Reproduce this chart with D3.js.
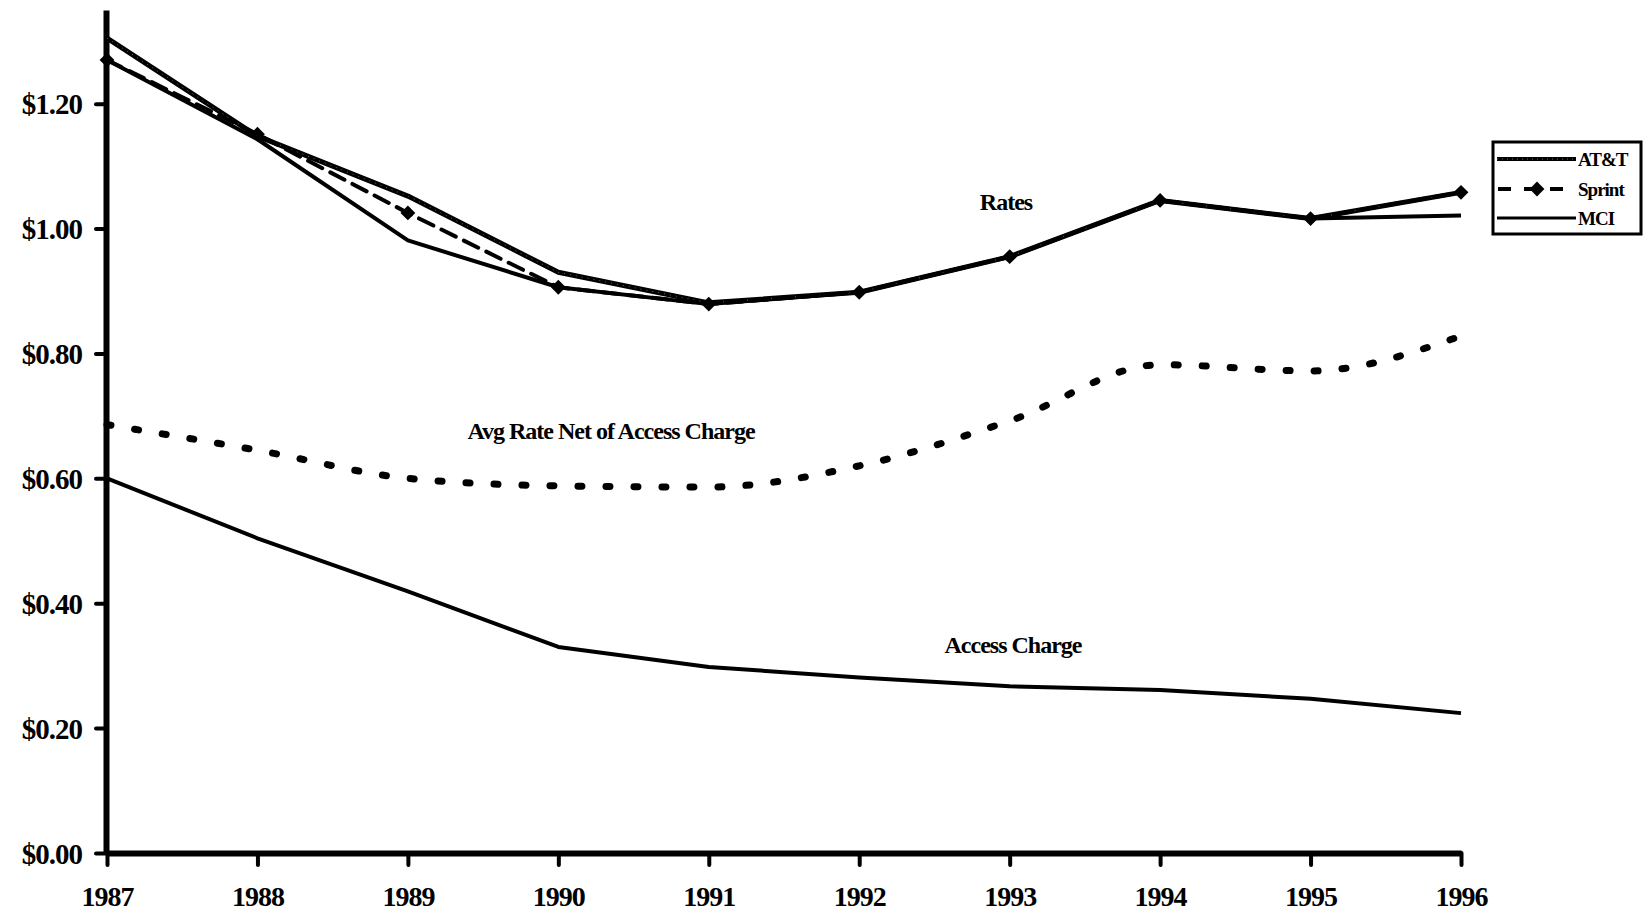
<!DOCTYPE html>
<html>
<head>
<meta charset="utf-8">
<script src="https://cdn.jsdelivr.net/npm/d3@7/dist/d3.min.js"></script>
<style>
  html, body { margin: 0; padding: 0; background: #fff; }
  svg { display: block; }
  text { font-family: "Liberation Serif", "DejaVu Serif", serif; font-weight: bold; fill: #000; }
</style>
</head>
<body>
<svg id="chart" width="1650" height="914"></svg>
<script>
// Long-distance rates per minute, 1987-1996
const years = [1987, 1988, 1989, 1990, 1991, 1992, 1993, 1994, 1995, 1996];
const att    = [1.305, 1.148, 1.052, 0.930, 0.881, 0.898, 0.955, 1.045, 1.016, 1.058];
const sprint = [1.270, 1.151, 1.025, 0.906, 0.879, 0.898, 0.955, 1.045, 1.016, 1.058];
const mci    = [1.270, 1.143, 0.981, 0.906, 0.879, 0.898, 0.955, 1.045, 1.016, 1.021];
const netOfAccess   = [0.686, 0.645, 0.600, 0.588, 0.586, 0.620, 0.692, 0.782, 0.772, 0.828];
const accessCharge  = [0.600, 0.504, 0.419, 0.330, 0.298, 0.281, 0.267, 0.261, 0.247, 0.224];
const yTicks = [0, 0.2, 0.4, 0.6, 0.8, 1.0, 1.2];
const legendItems = ["AT&T", "Sprint", "MCI"];

const svg = d3.select("#chart");

const x = d3.scaleLinear().domain([1987, 1996]).range([107, 1461]);
const y = d3.scaleLinear().domain([0, 1.35]).range([853, 10]);

// axes
const yAxis = d3.axisLeft(y)
  .tickValues(yTicks)
  .tickSize(10)
  .tickSizeOuter(0)
  .tickPadding(14)
  .tickFormat(d3.format("$.2f"));

const gy = svg.append("g").attr("transform", "translate(106,0)").call(yAxis);
gy.select(".domain").attr("stroke", "#000").attr("stroke-width", 6);
gy.selectAll(".tick line").attr("stroke", "#000").attr("stroke-width", 4).attr("stroke-linecap", "round");
gy.selectAll(".tick text").style("font-size", "29px").attr("fill", "#000").attr("dy", "0.35em")
  .attr("letter-spacing", "-1");

const xAxis = d3.axisBottom(x)
  .tickValues(years)
  .tickSize(12)
  .tickSizeOuter(0)
  .tickPadding(21)
  .tickFormat(d3.format("d"));

const gx = svg.append("g").attr("transform", "translate(0,853)").call(xAxis);
gx.select(".domain").attr("stroke", "#000").attr("stroke-width", 6);
gx.selectAll(".tick line").attr("stroke", "#000").attr("stroke-width", 4).attr("stroke-linecap", "round");
gx.selectAll(".tick text").style("font-size", "28px").attr("fill", "#000").attr("letter-spacing", "-1");

const line = d3.line().x((d, i) => x(years[i])).y(d => y(d));
const smooth = d3.line().x((d, i) => x(years[i])).y(d => y(d)).curve(d3.curveMonotoneX);

// access charge
svg.append("path").datum(accessCharge).attr("d", line)
  .attr("fill", "none").attr("stroke", "#000").attr("stroke-width", 4).attr("stroke-linejoin", "round");

// average rate net of access charge
svg.append("path").datum(netOfAccess).attr("d", smooth)
  .attr("fill", "none").attr("stroke", "#000").attr("stroke-width", 7)
  .attr("stroke-dasharray", "4,24").attr("stroke-linecap", "round");

// carrier rates
svg.append("path").datum(mci).attr("d", line)
  .attr("fill", "none").attr("stroke", "#000").attr("stroke-width", 4).attr("stroke-linejoin", "round");

svg.append("path").datum(att).attr("d", line)
  .attr("fill", "none").attr("stroke", "#000").attr("stroke-width", 5).attr("stroke-linejoin", "round");
svg.append("path").datum(att).attr("d", line)
  .attr("fill", "none").attr("stroke", "#fff").attr("stroke-width", 1)
  .attr("stroke-dasharray", "1,5").attr("opacity", 0.4);

svg.append("path").datum(sprint).attr("d", line)
  .attr("fill", "none").attr("stroke", "#000").attr("stroke-width", 4)
  .attr("stroke-dasharray", "16,9").attr("stroke-linecap", "round");

const diamond = d3.symbol().type(d3.symbolSquare).size(110);
svg.append("g").selectAll("path").data(sprint).join("path")
  .attr("d", diamond)
  .attr("transform", (d, i) => `translate(${x(years[i])},${y(d)}) rotate(45)`)
  .attr("fill", "#000");

// series labels
svg.append("text").attr("x", 1006).attr("y", 210).attr("text-anchor", "middle")
  .style("font-size", "24px").attr("letter-spacing", "-1").text("Rates");
svg.append("text").attr("x", 611).attr("y", 439).attr("text-anchor", "middle")
  .style("font-size", "24px").attr("letter-spacing", "-1").text("Avg Rate Net of Access Charge");
svg.append("text").attr("x", 1013).attr("y", 653).attr("text-anchor", "middle")
  .style("font-size", "24px").attr("letter-spacing", "-1").text("Access Charge");

// legend
const lg = svg.append("g");
lg.append("rect").attr("x", 1493).attr("y", 142).attr("width", 148).attr("height", 92)
  .attr("fill", "#fff").attr("stroke", "#000").attr("stroke-width", 3);

const rowY = [159, 189, 218];
// AT&T sample
lg.append("line").attr("x1", 1497).attr("x2", 1576).attr("y1", rowY[0]).attr("y2", rowY[0])
  .attr("stroke", "#000").attr("stroke-width", 4);
lg.append("line").attr("x1", 1497).attr("x2", 1576).attr("y1", rowY[0]).attr("y2", rowY[0])
  .attr("stroke", "#fff").attr("stroke-width", 1).attr("stroke-dasharray", "1,4").attr("opacity", 0.4);
// Sprint sample
lg.append("line").attr("x1", 1498).attr("x2", 1576).attr("y1", rowY[1]).attr("y2", rowY[1])
  .attr("stroke", "#000").attr("stroke-width", 4).attr("stroke-dasharray", "13,13");
lg.append("path").attr("d", diamond).attr("transform", `translate(1537,${rowY[1]}) rotate(45)`).attr("fill", "#000");
// MCI sample
lg.append("line").attr("x1", 1497).attr("x2", 1576).attr("y1", rowY[2]).attr("y2", rowY[2])
  .attr("stroke", "#000").attr("stroke-width", 3);

lg.selectAll("text.lbl").data(legendItems).join("text")
  .attr("class", "lbl")
  .attr("x", 1578).attr("y", (d, i) => rowY[i] + 7)
  .style("font-size", "19px").attr("letter-spacing", "-1")
  .text(d => d);
</script>
</body>
</html>
